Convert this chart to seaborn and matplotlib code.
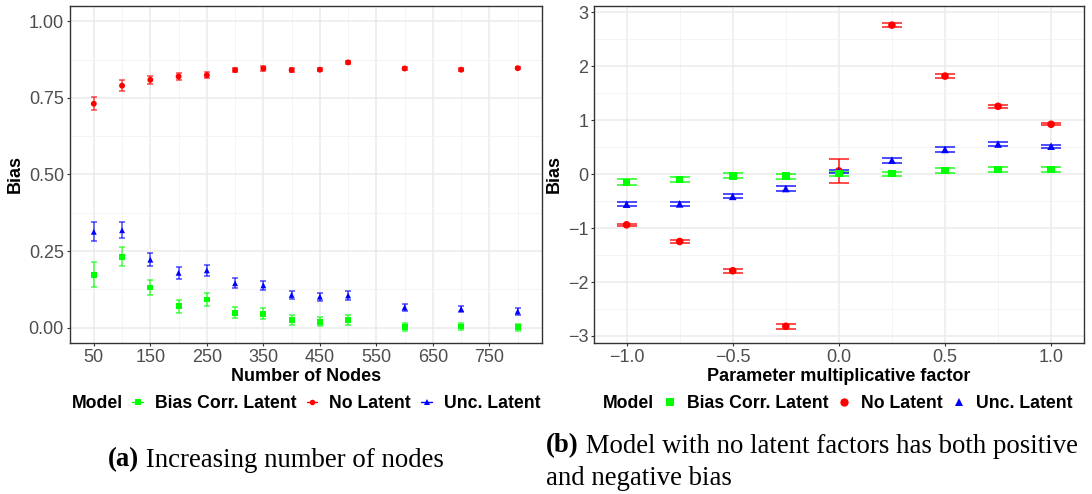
import numpy as np
import pandas as pd
import matplotlib
matplotlib.use("Agg")
import matplotlib.pyplot as plt
from matplotlib.lines import Line2D
from matplotlib.ticker import MultipleLocator, FixedLocator, FuncFormatter
import seaborn as sns

# ---------------- data ----------------
models = ["Bias Corr. Latent", "No Latent", "Unc. Latent"]
colors = {"Bias Corr. Latent": "#00FF00", "No Latent": "#FF0000", "Unc. Latent": "#0000FF"}
markers = {"Bias Corr. Latent": "s", "No Latent": "o", "Unc. Latent": "^"}

nodes = [50, 100, 150, 200, 250, 300, 350, 400, 450, 500, 600, 700, 800]
nodes_bias_corr = [0.173, 0.232, 0.131, 0.070, 0.092, 0.049, 0.046, 0.026, 0.020, 0.026, 0.001, 0.004, 0.001]
nodes_bias_corr_err = [0.040, 0.030, 0.024, 0.021, 0.021, 0.019, 0.018, 0.016, 0.015, 0.017, 0.013, 0.012, 0.012]
nodes_no_latent = [0.731, 0.790, 0.809, 0.820, 0.824, 0.841, 0.846, 0.841, 0.842, 0.866, 0.846, 0.842, 0.847]
nodes_no_latent_err = [0.022, 0.018, 0.012, 0.011, 0.010, 0.008, 0.007, 0.006, 0.005, 0.004, 0.004, 0.004, 0.004]
nodes_unc = [0.313, 0.318, 0.222, 0.179, 0.187, 0.145, 0.138, 0.107, 0.101, 0.105, 0.066, 0.061, 0.053]
nodes_unc_err = [0.031, 0.026, 0.021, 0.019, 0.018, 0.017, 0.016, 0.014, 0.013, 0.015, 0.011, 0.011, 0.010]

factor = [-1.0, -0.75, -0.5, -0.25, 0.0, 0.25, 0.5, 0.75, 1.0]
factor_bias_corr = [-0.15, -0.095, -0.03, -0.035, 0.01, 0.01, 0.07, 0.09, 0.09]
factor_bias_corr_err = [0.055, 0.05, 0.045, 0.045, 0.04, 0.04, 0.045, 0.05, 0.05]
factor_no_latent = [-0.938, -1.247, -1.79, -2.82, 0.062, 2.765, 1.82, 1.26, 0.926]
factor_no_latent_err = [0.02, 0.03, 0.04, 0.045, 0.216, 0.043, 0.035, 0.025, 0.02]
factor_unc = [-0.556, -0.55, -0.41, -0.265, 0.05, 0.26, 0.46, 0.56, 0.52]
factor_unc_err = [0.035, 0.035, 0.04, 0.043, 0.02, 0.045, 0.04, 0.04, 0.03]

caption_a = ("(a)", " Increasing number of nodes")
caption_b = ("(b)", " Model with no latent factors has both positive", "and negative bias")


def frame(x, series):
    rows = []
    for m, (vals, errs) in zip(models, series):
        for xi, v, e in zip(x, vals, errs):
            rows.append({"x": xi, "Bias": v, "err": e, "Model": m})
    return pd.DataFrame(rows)


df_a = frame(nodes, [(nodes_bias_corr, nodes_bias_corr_err),
                     (nodes_no_latent, nodes_no_latent_err),
                     (nodes_unc, nodes_unc_err)])
df_b = frame(factor, [(factor_bias_corr, factor_bias_corr_err),
                      (factor_no_latent, factor_no_latent_err),
                      (factor_unc, factor_unc_err)])

# ---------------- style ----------------
sns.set_theme(style="white")
plt.rcParams["font.family"] = ["Liberation Sans", "DejaVu Sans"]
plt.rcParams["axes.unicode_minus"] = True
plt.rcParams["text.color"] = "black"
plt.rcParams["legend.labelcolor"] = "black"

W, H = 1092, 494
fig = plt.figure(figsize=(W / 100, H / 100), dpi=100)
ax1 = fig.add_axes([69.5 / W, 1 - 343 / H, (542 - 69.5) / W, (343 - 6) / H])
ax2 = fig.add_axes([593.7 / W, 1 - 343 / H, (1084 - 593.7) / W, (343 - 6) / H])

TICK_COL = "#4D4D4D"
order_draw = ["No Latent", "Unc. Latent", "Bias Corr. Latent"]


def draw(ax, df, capsize, msize, elw):
    for m in models:
        d = df[df.Model == m]
        ax.errorbar(d["x"], d["Bias"], yerr=d["err"], fmt="none", ecolor=colors[m],
                    elinewidth=elw, capsize=capsize, capthick=elw, alpha=0.7, zorder=2)
    for m in order_draw:
        d = df[df.Model == m]
        sns.scatterplot(data=d, x="x", y="Bias", hue="Model", style="Model",
                        palette=colors, markers=markers, s=msize, linewidth=0,
                        ax=ax, legend=False, zorder=3)


draw(ax1, df_a, capsize=2.0, msize=18, elw=1.1)
draw(ax2, df_b, capsize=7.5, msize=30, elw=1.4)

ax1.set_xlim(7, 843)
ax1.set_ylim(-0.05, 1.05)
ax1.xaxis.set_major_locator(FixedLocator([50, 150, 250, 350, 450, 550, 650, 750]))
ax1.xaxis.set_minor_locator(FixedLocator([100, 200, 300, 400, 500, 600, 700, 800]))
ax1.yaxis.set_major_locator(MultipleLocator(0.25))
ax1.yaxis.set_minor_locator(FixedLocator([0.125, 0.375, 0.625, 0.875]))
ax1.yaxis.set_major_formatter(FuncFormatter(lambda v, p: f"{v:.2f}"))

ax2.set_xlim(-1.155, 1.155)
ax2.set_ylim(-3.13, 3.12)
ax2.xaxis.set_major_locator(FixedLocator([-1.0, -0.5, 0.0, 0.5, 1.0]))
ax2.xaxis.set_minor_locator(FixedLocator([-0.75, -0.25, 0.25, 0.75]))
ax2.yaxis.set_major_locator(FixedLocator([-3, -2, -1, 0, 1, 2, 3]))
ax2.yaxis.set_minor_locator(FixedLocator([-2.5, -1.5, -0.5, 0.5, 1.5, 2.5]))
ax2.xaxis.set_major_formatter(FuncFormatter(lambda v, p: f"{v:.1f}".replace("-", "\u2212")))
ax2.yaxis.set_major_formatter(FuncFormatter(lambda v, p: f"{int(round(v))}".replace("-", "\u2212")))

for ax, xl in [(ax1, "Number of Nodes"), (ax2, "Parameter multiplicative factor")]:
    ax.set_facecolor("white")
    ax.grid(True, which="major", color="#EBEBEB", linewidth=1.1, zorder=0)
    ax.grid(True, which="minor", color="#F2F2F2", linewidth=0.6, zorder=0)
    ax.set_axisbelow(True)
    for s in ax.spines.values():
        s.set_color("#333333")
        s.set_linewidth(1.0)
        s.set_visible(True)
    ax.tick_params(axis="both", which="major", length=2.2, width=0.8, color="#333333",
                   labelsize=13, labelcolor=TICK_COL, pad=1.8, direction="out",
                   bottom=True, left=True)
    ax.tick_params(axis="both", which="minor", length=0)
    ax.set_xlabel(xl, fontsize=13, fontweight="bold", color="black", labelpad=1.5)
    ax.set_ylabel("Bias", fontsize=13, fontweight="bold", color="black", labelpad=3.5)

# ---------------- legends ----------------
LEG_Y = 1 - 404 / H
LEG_FS = 12.7


def legend(x_model, x_handles, with_line, msz):
    fig.text(x_model / W, LEG_Y, "Model", fontsize=LEG_FS, fontweight="bold",
             ha="left", va="center", color="black")
    handles = []
    for m in models:
        handles.append(Line2D([], [], color=colors[m], marker=markers[m], markersize=msz,
                              linestyle="-" if with_line else "none", linewidth=1.0,
                              markeredgewidth=0))
    fig.legend(handles, models, loc="center left", bbox_to_anchor=(x_handles / W, LEG_Y),
               ncol=3, frameon=False, borderpad=0, borderaxespad=0,
               handlelength=0.6, handletextpad=0.66, columnspacing=0.61,
               prop={"size": LEG_FS, "weight": "bold"}, labelcolor="black")


legend(72, 132.4, True, 4.0)
legend(603, 664.4, False, 6.0)

# ---------------- captions ----------------
CAP_FS = 19.3
SERIF = ["Liberation Serif", "DejaVu Serif"]


def caption(x, y, bold, rest):
    t = fig.text(x / W, 1 - y / H, bold, fontsize=CAP_FS, fontweight="bold",
                 family=SERIF, ha="left", va="center", color="black")
    ax1.annotate(rest, xy=(1, 0), xycoords=t, ha="left", va="bottom", fontsize=CAP_FS,
                 family=SERIF, annotation_clip=False, color="black")


caption(108, 460, caption_a[0], caption_a[1])
caption(546, 446, caption_b[0], caption_b[1])
fig.text(546 / W, 1 - 478 / H, caption_b[2], fontsize=CAP_FS,
         family=SERIF, ha="left", va="center", color="black")

fig.savefig("out.png", dpi=100)
